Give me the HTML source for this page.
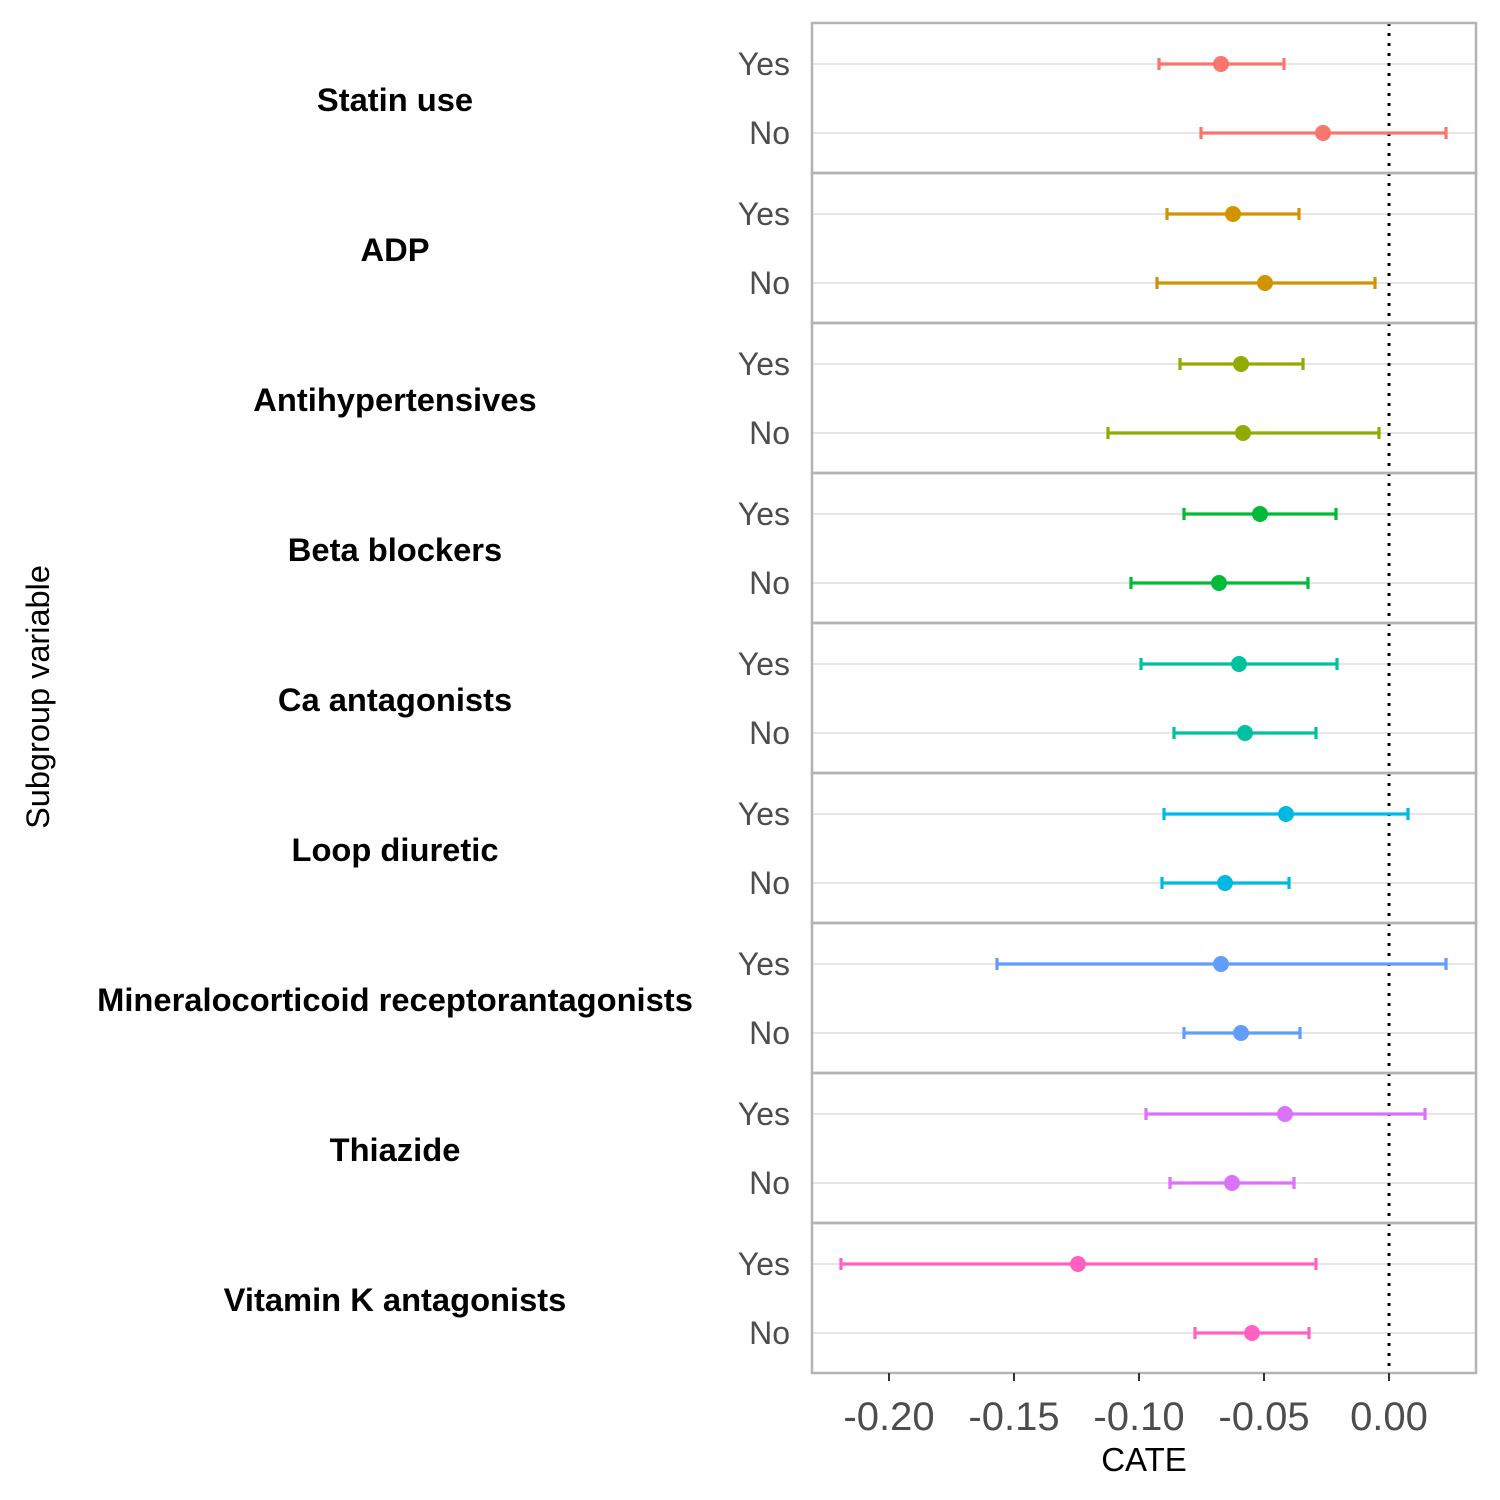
<!DOCTYPE html>
<html><head><meta charset="utf-8"><style>
html,body{margin:0;padding:0;background:#fff;}
svg{display:block;font-family:"Liberation Sans",Arial,sans-serif;}
</style></head><body>
<svg id="chart" width="1500" height="1500" viewBox="0 0 1500 1500"></svg>
<script>
const groups = ["Statin use","ADP","Antihypertensives","Beta blockers","Ca antagonists","Loop diuretic","Mineralocorticoid receptorantagonists","Thiazide","Vitamin K antagonists"];
const levels = ["Yes","No"];
const estYes = [-0.0672,-0.0624,-0.0592,-0.0516,-0.0600,-0.0412,-0.0672,-0.0416,-0.1244];
const loYes  = [-0.0920,-0.0888,-0.0836,-0.0820,-0.0992,-0.0900,-0.1568,-0.0972,-0.2192];
const hiYes  = [-0.0420,-0.0360,-0.0344,-0.0212,-0.0208,0.0076,0.0228,0.0144,-0.0292];
const estNo  = [-0.0264,-0.0496,-0.0584,-0.0680,-0.0576,-0.0656,-0.0592,-0.0628,-0.0548];
const loNo   = [-0.0752,-0.0928,-0.1124,-0.1032,-0.0860,-0.0908,-0.0820,-0.0876,-0.0776];
const hiNo   = [0.0228,-0.0056,-0.0040,-0.0324,-0.0292,-0.0400,-0.0356,-0.0380,-0.0320];
const xTicks = [-0.20,-0.15,-0.10,-0.05,0.00];
const xTickLabels = ["-0.20","-0.15","-0.10","-0.05","0.00"];
const colors = ["#F8766D","#D39200","#93AA00","#00BA38","#00C19F","#00B9E3","#619CFF","#DB72FB","#FF61C3"];

const NS="http://www.w3.org/2000/svg";
const svg=document.getElementById('chart');
const L=812,R=1476,T=23,PH=150;
const x=v=>1389+v*2500;
function mk(tag,attrs,text){const e=document.createElementNS(NS,tag);for(const k in attrs)e.setAttribute(k,attrs[k]);if(text!==undefined)e.textContent=text;svg.appendChild(e);return e;}

groups.forEach((g,i)=>{
  const top=T+i*PH;
  const rows=[{lab:levels[0],y:top+41},{lab:levels[1],y:top+110}];
  rows.forEach(r=>{
    let gl=mk('line',{x1:L,x2:R,y1:r.y,y2:r.y,stroke:'#DEDEDE','stroke-width':1.5});
    
    
    let t=mk('text',{x:790,y:r.y+11,'text-anchor':'end','font-size':32,fill:'#4D4D4D'},r.lab);
    
    
  });
  let gt=mk('text',{x:395,y:top+88,'text-anchor':'middle','font-size':32.7,'font-weight':'bold',fill:'#000'},g);
  
  
});
let zl=mk('line',{x1:x(0),x2:x(0),y1:T,y2:T+9*PH,stroke:'#000','stroke-width':3,'stroke-dasharray':'3 7'});


groups.forEach((g,i)=>{
  const top=T+i*PH;
  const rows=[{y:top+41,e:estYes[i],lo:loYes[i],hi:hiYes[i]},{y:top+110,e:estNo[i],lo:loNo[i],hi:hiNo[i]}];
  rows.forEach(r=>{
    const c=colors[i];
    let eb=mk('path',{d:`M${x(r.lo)},${r.y}H${x(r.hi)}M${x(r.lo)},${r.y-6}V${r.y+6}M${x(r.hi)},${r.y-6}V${r.y+6}`,stroke:c,'stroke-width':3.2,fill:'none'});
    
    
    let p=mk('circle',{cx:x(r.e),cy:r.y,r:8,fill:c});
    
    
  });
  let pb=mk('rect',{x:L,y:top,width:R-L,height:PH,fill:'none',stroke:'#B3B3B3','stroke-width':2.5});
  
  
});
xTicks.forEach((v,k)=>{
  let tk=mk('line',{x1:x(v),x2:x(v),y1:T+9*PH,y2:T+9*PH+8,stroke:'#333','stroke-width':2});
  
  
  let tl=mk('text',{x:x(v),y:1430,'text-anchor':'middle','font-size':40,fill:'#4D4D4D'},xTickLabels[k]);
  
  
});
let xt=mk('text',{x:1144,y:1471,'text-anchor':'middle','font-size':33,fill:'#000'},'CATE');


let yt=mk('text',{x:0,y:0,transform:'translate(49,697) rotate(-90)','text-anchor':'middle','font-size':32.5,fill:'#000'},'Subgroup variable');


</script>
</body></html>
